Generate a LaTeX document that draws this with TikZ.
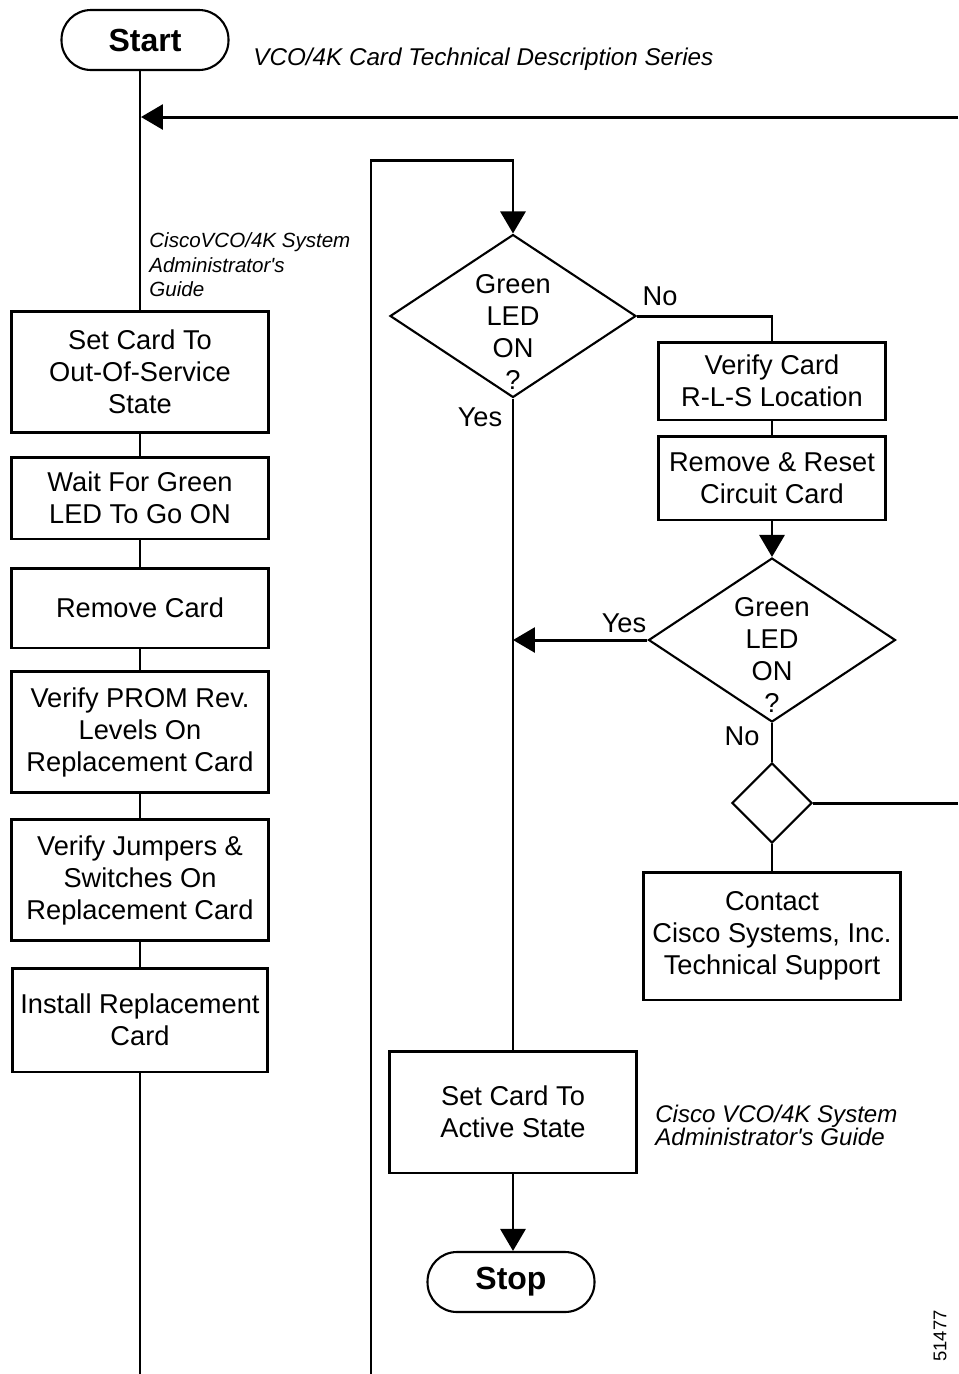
\documentclass[tikz,border=0pt]{standalone}
\usepackage{fontspec}
\setmainfont{Liberation Sans}
\usetikzlibrary{arrows.meta, positioning, shapes.geometric}
\newcommand{\flowfont}{\fontsize{15.5}{18.2}\selectfont}
\newcommand{\notefont}{\fontsize{13.7}{13}\selectfont\itshape}

\begin{document}
\begin{tikzpicture}[
    x=0.02cm, y=-0.02cm,
    stepbox/.style={draw, line width=1.7pt, minimum width=5.16cm, align=center, inner sep=0pt, font=\flowfont},
    terminal/.style={draw, line width=1.2pt, rounded corners=0.59cm, minimum width=3.34cm, minimum height=1.2cm, font=\fontsize{18.2}{20}\selectfont\bfseries},
    decision/.style={draw, diamond, line width=1.2pt, inner sep=0pt},
    dectext/.style={align=center, font=\flowfont, inner sep=0pt},
    answer/.style={font=\flowfont, inner sep=0pt},
    flow/.style={line width=1.7pt, -{Triangle[length=0.44cm, width=0.5cm]}},
    link/.style={line width=1.7pt},
]

% Page frame
\useasboundingbox (0,0) rectangle (958,1374);

% Terminals
\node[terminal] (start) at (145,40) {Start};
\node[terminal] (stop) at (511,1282) {Stop};

% Left column - card replacement steps
\node[stepbox, minimum height=2.42cm] (outserv) at (140,372) {Set Card To\\Out-Of-Service\\State};
\node[stepbox, minimum height=1.64cm] (waitled) at (140,498) {Wait For Green\\LED To Go ON};
\node[stepbox, minimum height=1.6cm] (remove) at (140,608) {Remove Card};
\node[stepbox, minimum height=2.42cm] (prom) at (140,732) {Verify PROM Rev.\\Levels On\\Replacement Card};
\node[stepbox, minimum height=2.42cm] (jumpers) at (140,880) {Verify Jumpers \&\\Switches On\\Replacement Card};
\node[stepbox, minimum height=2.08cm, minimum width=5.12cm] (install) at (140,1020) {Install Replacement\\Card};

% Right column - checks
\node[stepbox, minimum width=4.56cm, minimum height=1.56cm] (verify) at (772,381) {Verify Card\\R-L-S Location};
\node[stepbox, minimum width=4.56cm, minimum height=1.68cm] (reset) at (772,478) {Remove \& Reset\\Circuit Card};
\node[stepbox, minimum width=5.14cm, minimum height=2.56cm] (contact) at (772,936) {Contact\\Cisco Systems, Inc.\\Technical Support};
\node[stepbox, minimum width=4.96cm, minimum height=2.44cm] (active) at (513,1112) {Set Card To\\Active State};

% Decisions
\node[decision, minimum width=4.92cm, minimum height=3.26cm] (ledfirst) at (513,316) {};
\node[dectext] (ledfirsttxt) at (513,332) {Green\\LED\\ON\\?};
\node[decision, minimum width=4.94cm, minimum height=3.28cm] (ledagain) at (772,640) {};
\node[dectext] (ledagaintxt) at (772,655) {Green\\LED\\ON\\?};
\node[decision, minimum width=1.6cm, minimum height=1.6cm] (merge) at (772,803) {};

% Annotations
\node[anchor=west, inner sep=0pt, font=\fontsize{13.8}{16}\selectfont\itshape] (series) at (253,59) {VCO/4K Card Technical Description Series};
\node[anchor=west, align=left, inner sep=0pt, font=\fontsize{11.7}{14}\selectfont\itshape] (sysguide) at (149,265) {CiscoVCO/4K System\\Administrator\textquotesingle s\\Guide};
\node[anchor=west, align=left, inner sep=0pt, font=\notefont] (sysguidetwo) at (655,1125) {Cisco VCO/4K System\\Administrator\textquotesingle s Guide};
\node[rotate=90, inner sep=0pt, font=\fontsize{10.5}{12}\selectfont] (fignum) at (940,1336) {51477};

% Yes / No
\node[answer] (nofirst) at (660,296) {No};
\node[answer] (yesfirst) at (480,417) {Yes};
\node[answer] (yesagain) at (624,623) {Yes};
\node[answer] (noagain) at (742,736) {No};

% Off-page ends
\coordinate (leftbot) at (140,1374);
\coordinate (rightbot) at (371,1374);
\coordinate (looptop) at (371,160);
\coordinate (retright) at (958,117);
\coordinate (retleft) at (141,117);
\coordinate (exitright) at (958,803);

% Connectors
\draw[link] (outserv.north |- start.south) -- (outserv.north);
\draw[flow] (retright) -- (retleft);
\draw[link] (outserv) -- (waitled);
\draw[link] (waitled) -- (remove);
\draw[link] (remove) -- (prom);
\draw[link] (prom) -- (jumpers);
\draw[link] (jumpers) -- (install);
\draw[link] (install) -- (leftbot);

\draw[flow] (rightbot) -- (looptop) -| (ledfirst.north);
\draw[link] (ledfirst.east) -| (verify.north);
\draw[link] (verify) -- (reset);
\draw[flow] (reset.south) -- (ledagain.north);
\draw[flow] (ledagain.west) -- (ledfirst.south |- ledagain.west);
\draw[link] (ledfirst.south) -- (active.north);
\draw[link] (ledagain.south) -- (merge.north);
\draw[link] (merge.east) -- (exitright);
\draw[link] (merge.south) -- (contact.north);
\draw[flow] (active.south) -- (active.south |- stop.north);

\end{tikzpicture}
\end{document}
